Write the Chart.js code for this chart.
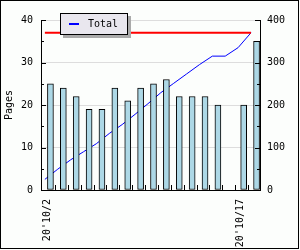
<!DOCTYPE html>
<html>
<head>
<meta charset="utf-8">
<script src="https://cdn.jsdelivr.net/npm/chart.js@4.4.0/dist/chart.umd.min.js"></script>
<style>
  body { margin: 0; background: #fcfefc; }
  #wrap { position: relative; width: 300px; height: 250px; }
  #legend {
    position: absolute; left: 60px; top: 13px; width: 68px; height: 22px;
    box-sizing: border-box; border: 1px solid #000; background: #e9e7ee;
    box-shadow: 3px 3px 0 #aaa; font: 10px 'DejaVu Sans Mono', monospace; color: #000;
  }
  #legend .swatch { position: absolute; left: 8px; top: 9px; width: 10px; height: 2px; background: #0000ff; }
  #legend .label { position: absolute; left: 27px; top: 4px; line-height: 12px; }
</style>
</head>
<body>
<div id="wrap">
  <canvas id="chart" width="300" height="250"></canvas>
  <div id="legend"><span class="swatch"></span><span class="label">Total</span></div>
</div>
<script>
// days on the x axis, only some of them get a label
const days = ["20'10/2", "20'10/3", "20'10/4", "20'10/5", "20'10/6", "20'10/7", "20'10/8", "20'10/9",
  "20'10/10", "20'10/11", "20'10/12", "20'10/13", "20'10/14", "20'10/15", "20'10/16", "20'10/17", "20'10/18"];
const shownDays = ["20'10/2", "20'10/17"];

// pages per day (left axis)
const pages = [25, 24, 22, 19, 19, 24, 21, 24, 25, 26, 22, 22, 22, 20, 0, 20, 35];
// running total (right axis)
const totals = [25, 49, 71, 90, 109, 133, 154, 178, 203, 229, 251, 273, 295, 315, 315, 335, 370];
// red reference line (right axis)
const target = [370, 370, 370, 370, 370, 370, 370, 370, 370, 370, 370, 370, 370, 370, 370, 370, 370];

const leftTicks = [0, 10, 20, 30, 40];
const rightTicks = [0, 100, 200, 300, 400];

Chart.defaults.font.family = "'DejaVu Sans Mono', monospace";
Chart.defaults.font.size = 10;
Chart.defaults.color = '#000';

// background, frame and the small inward tick marks
const decorations = {
  id: 'decorations',
  beforeDraw(chart) {
    const ctx = chart.ctx;
    ctx.save();
    ctx.fillStyle = '#fcfefc';
    ctx.fillRect(0, 0, chart.width, chart.height);
    ctx.restore();
  },
  afterDraw(chart) {
    const { ctx, chartArea: a, scales } = chart;
    ctx.save();
    ctx.strokeStyle = '#000';
    ctx.lineWidth = 1;
    ctx.beginPath();
    for (let v = 0; v <= 40; v += 5) {
      const y = Math.round(scales.y.getPixelForValue(v)) + 0.5;
      ctx.moveTo(a.left, y);
      ctx.lineTo(a.left + (v % 10 ? 3 : 5), y);
    }
    for (let v = 0; v <= 400; v += 50) {
      const y = Math.round(scales.y1.getPixelForValue(v)) + 0.5;
      ctx.moveTo(a.right, y);
      ctx.lineTo(a.right - (v % 100 ? 3 : 5), y);
    }
    for (let i = 1; i < days.length; i++) {
      const x = Math.round((scales.x.getPixelForValue(i - 1) + scales.x.getPixelForValue(i)) / 2) + 1.5;
      ctx.moveTo(x, a.bottom);
      ctx.lineTo(x, a.bottom - 5);
    }
    ctx.stroke();
    ctx.strokeRect(0.5, 0.5, 298, 248);
    ctx.restore();
  }
};

new Chart(document.getElementById('chart'), {
  type: 'bar',
  data: {
    labels: days,
    datasets: [
      {
        type: 'line',
        label: 'target',
        data: target.map((v, i) => ({ x: i, y: v })),
        xAxisID: 'xl',
        yAxisID: 'y1',
        borderColor: '#ff0000',
        borderWidth: 2,
        pointRadius: 0,
        order: 0
      },
      {
        label: 'Pages',
        data: pages,
        yAxisID: 'y',
        backgroundColor: '#add8e6',
        borderColor: '#000',
        borderWidth: 1,
        borderSkipped: false,
        barThickness: 6,
        order: 1
      },
      {
        type: 'line',
        label: 'Total',
        data: totals.map((v, i) => ({ x: i, y: v })),
        xAxisID: 'xl',
        yAxisID: 'y1',
        borderColor: '#0000ff',
        borderWidth: 1,
        pointRadius: 0,
        tension: 0,
        order: 2
      }
    ]
  },
  options: {
    responsive: false,
    devicePixelRatio: 1,
    animation: false,
    layout: { padding: { top: 20, left: 0, right: 0, bottom: 0 } },
    plugins: { legend: { display: false }, tooltip: { enabled: false } },
    scales: {
      x: {
        grid: { display: false },
        border: { display: true, color: '#000' },
        ticks: {
          autoSkip: false,
          minRotation: 90,
          maxRotation: 90,
          padding: 1,
          callback: (v, i) => shownDays.includes(days[i]) ? days[i] : ''
        },
        afterFit: (s) => { s.height = 60; }
      },
      // lines sit a little left of the bar centres, as in the original
      xl: { type: 'linear', display: false, offset: false, grace: 0, min: -0.3, max: 16.7 },
      y: {
        position: 'left',
        min: 0,
        max: 40,
        afterBuildTicks: (s) => { s.ticks = leftTicks.map(v => ({ value: v })); },
        grid: { color: '#dddddd', drawTicks: false },
        border: { display: true, color: '#000' },
        ticks: { padding: 8 },
        title: { display: true, text: 'Pages', padding: { top: 3, bottom: 0 } },
        afterFit: (s) => { s.width = 41; }
      },
      y1: {
        position: 'right',
        min: 0,
        max: 400,
        afterBuildTicks: (s) => { s.ticks = rightTicks.map(v => ({ value: v })); },
        grid: { display: false, drawTicks: false },
        border: { display: true, color: '#000' },
        ticks: { padding: 7 },
        afterFit: (s) => { s.width = 40; }
      }
    }
  },
  plugins: [decorations]
});
</script>
</body>
</html>
